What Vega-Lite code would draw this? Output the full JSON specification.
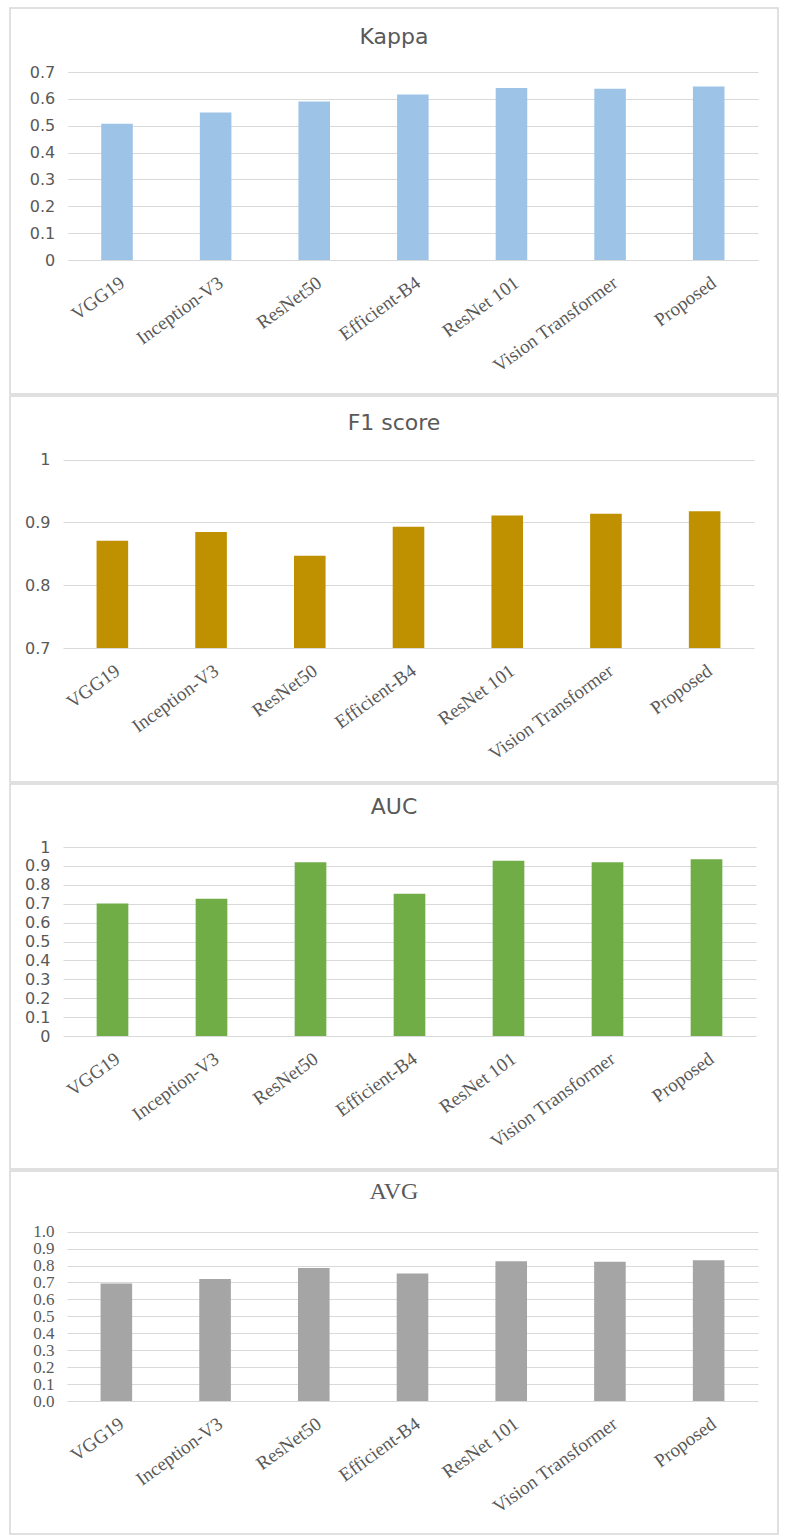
{
  "$schema": "https://vega.github.io/schema/vega-lite/v6.json",
  "background": "white",
  "padding": {"left": 9, "top": 7, "right": 0, "bottom": 0},
  "spacing": 0,
  "datasets": {
    "scores": [
      {"metric": "Kappa", "model": "VGG19", "value": 0.507},
      {"metric": "Kappa", "model": "Inception-V3", "value": 0.549},
      {"metric": "Kappa", "model": "ResNet50", "value": 0.59},
      {"metric": "Kappa", "model": "Efficient-B4", "value": 0.616},
      {"metric": "Kappa", "model": "ResNet 101", "value": 0.64},
      {"metric": "Kappa", "model": "Vision Transformer", "value": 0.638},
      {"metric": "Kappa", "model": "Proposed", "value": 0.646},
      {"metric": "F1", "model": "VGG19", "value": 0.871},
      {"metric": "F1", "model": "Inception-V3", "value": 0.885},
      {"metric": "F1", "model": "ResNet50", "value": 0.847},
      {"metric": "F1", "model": "Efficient-B4", "value": 0.893},
      {"metric": "F1", "model": "ResNet 101", "value": 0.911},
      {"metric": "F1", "model": "Vision Transformer", "value": 0.914},
      {"metric": "F1", "model": "Proposed", "value": 0.918},
      {"metric": "AUC", "model": "VGG19", "value": 0.701},
      {"metric": "AUC", "model": "Inception-V3", "value": 0.726},
      {"metric": "AUC", "model": "ResNet50", "value": 0.919},
      {"metric": "AUC", "model": "Efficient-B4", "value": 0.752},
      {"metric": "AUC", "model": "ResNet 101", "value": 0.927},
      {"metric": "AUC", "model": "Vision Transformer", "value": 0.919},
      {"metric": "AUC", "model": "Proposed", "value": 0.935},
      {"metric": "AVG", "model": "VGG19", "value": 0.694},
      {"metric": "AVG", "model": "Inception-V3", "value": 0.72},
      {"metric": "AVG", "model": "ResNet50", "value": 0.786},
      {"metric": "AVG", "model": "Efficient-B4", "value": 0.753},
      {"metric": "AVG", "model": "ResNet 101", "value": 0.825},
      {"metric": "AVG", "model": "Vision Transformer", "value": 0.822},
      {"metric": "AVG", "model": "Proposed", "value": 0.831}
    ]
  },
  "data": {"name": "scores"},
  "config": {
    "view": {"stroke": "#d6d6d6", "strokeWidth": 1.5},
    "title": {"color": "#595959", "fontWeight": "normal", "anchor": "middle", "frame": "group"},
    "axisX": {"title": null, "labelAngle": -36, "labelFont": "Liberation Serif", "labelFontSize": 19, "labelColor": "#595959", "ticks": false, "domain": false, "grid": false, "labelPadding": 13},
    "axisY": {"title": null, "labelColor": "#595959", "ticks": false, "tickSize": 0, "domain": false, "grid": true, "gridColor": "#d9d9d9", "gridWidth": 1, "labelPadding": 13, "labelOverlap": false}
  },
  "vconcat": [
    {
      "width": 768, "height": 386,
      "title": {"text": "Kappa", "font": "DejaVu Sans", "fontSize": 22, "offset": -41},
      "transform": [{"filter": "datum.metric === 'Kappa'"}],
      "mark": {"type": "bar", "color": "#9DC3E6", "width": {"band": 0.32}},
      "encoding": {
        "x": {"field": "model", "type": "nominal", "sort": null,
              "scale": {"range": [57.7, 748], "paddingInner": 0, "paddingOuter": 0},
              "axis": {"offset": -134}},
        "y": {"field": "value", "type": "quantitative",
              "scale": {"domain": [0, 0.7], "range": [252, 64], "nice": false, "zero": false},
              "axis": {"offset": -57.7, "values": [0, 0.1, 0.2, 0.3, 0.4, 0.5, 0.6, 0.7], "format": ".1~f", "labelFont": "DejaVu Sans", "labelFontSize": 16}}
      }
    },
    {
      "width": 768, "height": 386,
      "title": {"text": "F1 score", "font": "DejaVu Sans", "fontSize": 22, "offset": -39},
      "transform": [{"filter": "datum.metric === 'F1'"}],
      "mark": {"type": "bar", "color": "#BF9000", "width": {"band": 0.32}},
      "encoding": {
        "x": {"field": "model", "type": "nominal", "sort": null,
              "scale": {"range": [53, 744], "paddingInner": 0, "paddingOuter": 0},
              "axis": {"offset": -134}},
        "y": {"field": "value", "type": "quantitative",
              "scale": {"domain": [0.7, 1], "range": [252, 63.7], "nice": false, "zero": false},
              "axis": {"offset": -53, "values": [0.7, 0.8, 0.9, 1], "format": ".1~f", "labelFont": "DejaVu Sans", "labelFontSize": 16}},
        "y2": {"datum": 0.7}
      }
    },
    {
      "width": 768, "height": 385,
      "title": {"text": "AUC", "font": "DejaVu Sans", "fontSize": 22, "offset": -35},
      "transform": [{"filter": "datum.metric === 'AUC'"}],
      "mark": {"type": "bar", "color": "#70AD47", "width": {"band": 0.32}},
      "encoding": {
        "x": {"field": "model", "type": "nominal", "sort": null,
              "scale": {"range": [53, 746], "paddingInner": 0, "paddingOuter": 0},
              "axis": {"offset": -133}},
        "y": {"field": "value", "type": "quantitative",
              "scale": {"domain": [0, 1], "range": [252, 63], "nice": false, "zero": false},
              "axis": {"offset": -53, "values": [0, 0.1, 0.2, 0.3, 0.4, 0.5, 0.6, 0.7, 0.8, 0.9, 1], "format": ".1~f", "labelFont": "DejaVu Sans", "labelFontSize": 16}}
      }
    },
    {
      "width": 768, "height": 363,
      "title": {"text": "AVG", "font": "Liberation Serif", "fontSize": 24, "offset": -33},
      "transform": [{"filter": "datum.metric === 'AVG'"}],
      "mark": {"type": "bar", "color": "#A5A5A5", "width": {"band": 0.32}},
      "encoding": {
        "x": {"field": "model", "type": "nominal", "sort": null,
              "scale": {"range": [57, 748], "paddingInner": 0, "paddingOuter": 0},
              "axis": {"offset": -133}},
        "y": {"field": "value", "type": "quantitative",
              "scale": {"domain": [0, 1], "range": [230, 60.7], "nice": false, "zero": false},
              "axis": {"offset": -57, "values": [0, 0.1, 0.2, 0.3, 0.4, 0.5, 0.6, 0.7, 0.8, 0.9, 1], "format": ".1f", "labelFont": "Liberation Serif", "labelFontSize": 17}}
      }
    }
  ]
}
